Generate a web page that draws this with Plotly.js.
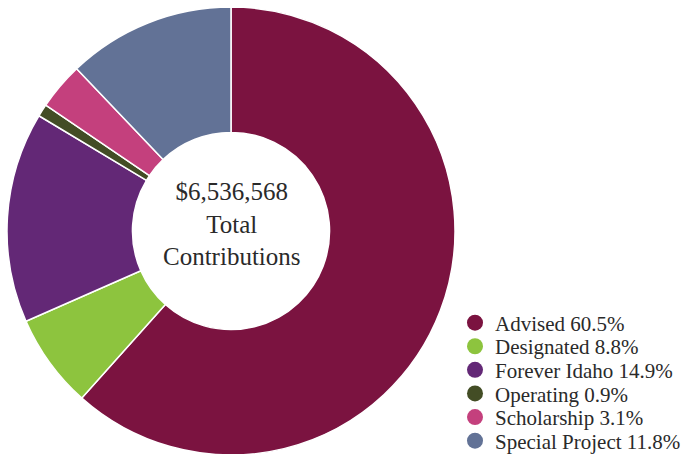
<!DOCTYPE html>
<html>
<head>
<meta charset="utf-8">
<script src="https://cdn.plot.ly/plotly-3.0.1.min.js"></script>
<style>
html,body{margin:0;padding:0;overflow:hidden;background:#fff;}
#chart{width:688px;height:462px;}
</style>
</head>
<body>
<div id="chart"></div>
<script>
// Data
const categories = ["Advised", "Designated", "Forever Idaho", "Operating", "Scholarship", "Special Project"];
const sliceValues = [61.6, 6.8, 15.2, 0.9, 3.4, 12.1];
const legendPercents = ["60.5%", "8.8%", "14.9%", "0.9%", "3.1%", "11.8%"];
const colors = ["#7B1340", "#8DC43E", "#632876", "#434D25", "#C4407D", "#627296"];
const centerText = ["$6,536,568", "Total", "Contributions"];

const FONT = '"Liberation Serif", "Times New Roman", serif';

const traces = [{
  type: "pie",
  labels: categories,
  values: sliceValues,
  sort: false,
  direction: "clockwise",
  rotation: 0,
  hole: 0.44,
  textinfo: "none",
  hoverinfo: "label+percent",
  marker: {colors: colors, line: {color: "#ffffff", width: 1.5}},
  domain: {x: [7/688, 455/688], y: [0, 1]},
  showlegend: false
}];

const layout = {
  width: 688, height: 462,
  margin: {l: 0, r: 0, t: 0, b: 0, autoexpand: false},
  paper_bgcolor: "#ffffff",
  plot_bgcolor: "rgba(0,0,0,0)",
  font: {family: FONT},
  xaxis: {visible: false, domain: [0.99, 1]},
  yaxis: {visible: false, domain: [0.99, 1]},
  showlegend: true,
  annotations: [{
    xref: "paper", yref: "paper",
    x: 232/688, y: 1 - 224.5/462,
    xanchor: "center", yanchor: "middle",
    showarrow: false,
    text: centerText.join("<br>"),
    font: {family: FONT, size: 25, color: "#2a2a2a"}
  }]
};

const topY = 1 - 323/462;
const step = 23.6/462;
categories.forEach((c, i) => {
  const lname = i === 0 ? "legend" : "legend" + (i + 1);
  traces.push({
    type: "scatter",
    mode: "markers",
    x: [null], y: [null],
    name: c + " " + legendPercents[i],
    marker: {symbol: "circle", size: 17, color: colors[i]},
    showlegend: true,
    legend: lname,
    hoverinfo: "skip"
  });
  layout[lname] = {
    x: 455/688, y: topY - i*step, xanchor: "left", yanchor: "middle",
    font: {family: FONT, size: 21, color: "#2a2a2a"},
    bgcolor: "rgba(0,0,0,0)",
    borderwidth: 0,
    itemclick: false, itemdoubleclick: false
  };
});

Plotly.newPlot("chart", traces, layout, {displayModeBar: false, staticPlot: true});
</script>
</body>
</html>
